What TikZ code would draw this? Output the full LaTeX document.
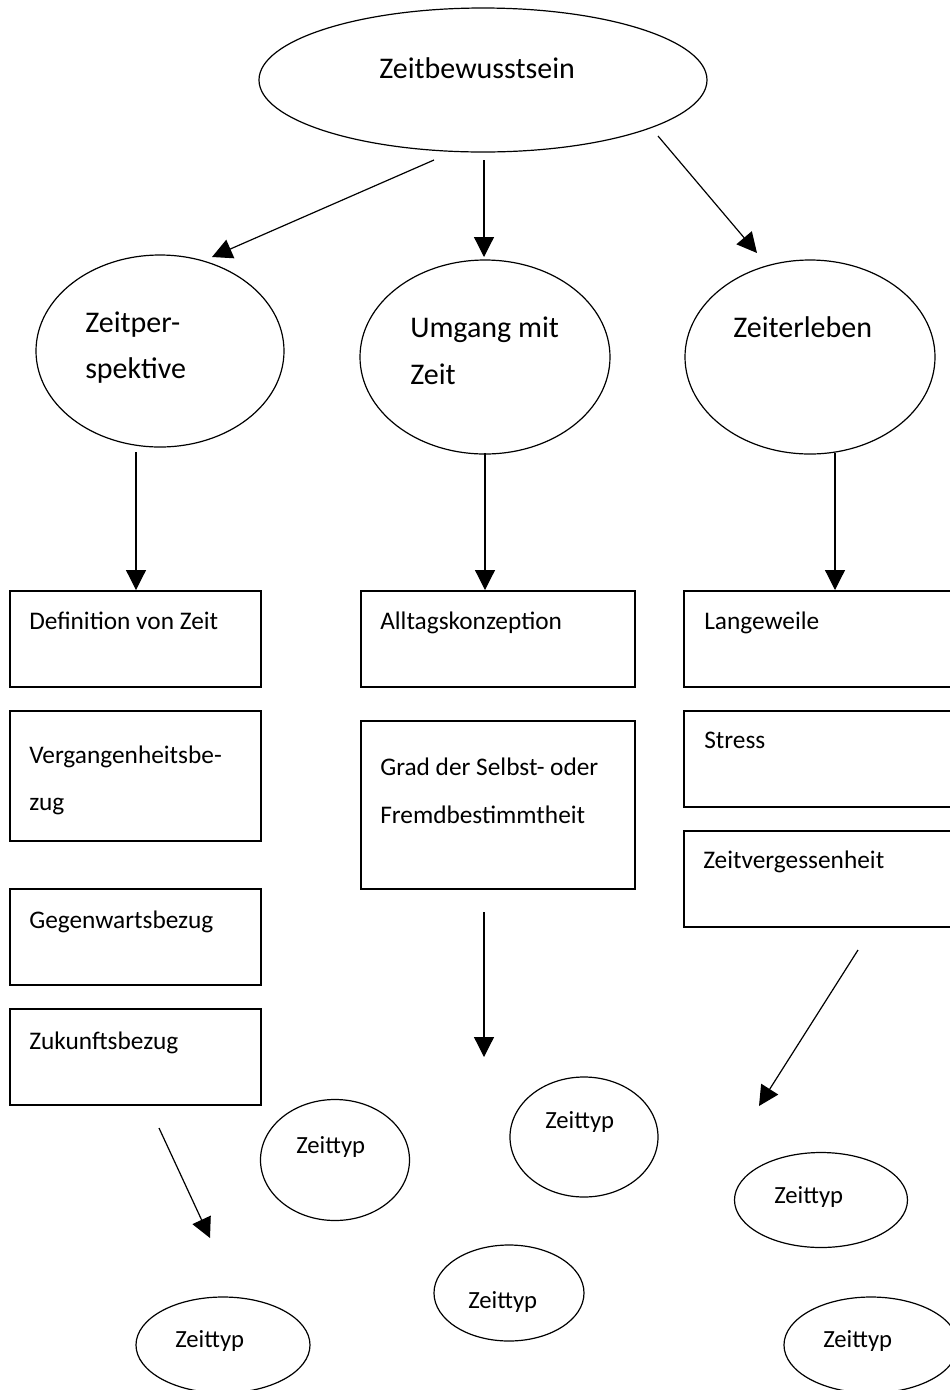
\documentclass[tikz,border=0pt]{standalone}
\usepackage{fontspec}
\setmainfont{Carlito}
\usetikzlibrary{shapes.geometric,arrows.meta}
\begin{document}
\begin{tikzpicture}[x=0.75pt,y=-0.75pt,
  oval/.style 2 args={draw, ellipse, line width=0.9pt, inner sep=0pt, outer sep=0pt,
    minimum width={#1*0.75pt}, minimum height={#2*0.75pt}},
  box/.style 2 args={draw, rectangle, line width=1pt, inner sep=0pt, outer sep=0pt, anchor=north west,
    minimum width={#1*0.75pt}, minimum height={#2*0.75pt}},
  big/.style={anchor=base west, inner sep=0pt, font=\fontsize{22.5}{27}\selectfont},
  mid/.style={anchor=base west, inner sep=0pt, font=\fontsize{19}{23}\selectfont},
  small/.style={anchor=base west, inner sep=0pt, font=\fontsize{18.5}{22}\selectfont},
  arr/.style={line width=0.9pt, -{Triangle[length=15pt,width=15pt]}}
]
\clip (0,0) rectangle (950,1390);
\fill[white] (0,0) rectangle (950,1390);

% top ellipse
\node[oval={448}{144}] (top) at (483,80) {};
\node[big] (toptxt) at (379,78) {Zeitbewusstsein};

% second level ellipses
\node[oval={248}{192}] (zp) at (160,351) {};
\node[big] (zptxt1) at (85,332) {Zeitper-};
\node[big] (zptxt2) at (85,378) {spektive};
\node[oval={250}{194}] (um) at (485,357) {};
\node[big] (umtxt1) at (410,337) {Umgang mit};
\node[big] (umtxt2) at (410,384) {Zeit};
\node[oval={250}{194}] (ze) at (810,357) {};
\node[big] (zetxt) at (733,337) {Zeiterleben};

% boxes left column
\node[box={251}{96}] (b11) at (10,591) {};
\node[mid] (t11) at (29,629) {Definition von Zeit};
\node[box={251}{130}] (b12) at (10,711) {};
\node[mid] (t12a) at (29,763) {Vergangenheitsbe-};
\node[mid] (t12b) at (29,810) {zug};
\node[box={251}{96}] (b13) at (10,889) {};
\node[mid] (t13) at (29,928) {Gegenwartsbezug};
\node[box={251}{96}] (b14) at (10,1009) {};
\node[mid] (t14) at (29,1049) {Zukunftsbezug};

% boxes middle column
\node[box={274}{96}] (b21) at (361,591) {};
\node[mid] (t21) at (380,629) {Alltagskonzeption};
\node[box={274}{168}] (b22) at (361,721) {};
\node[mid] (t22a) at (380,775) {Grad der Selbst- oder};
\node[mid] (t22b) at (380,823) {Fremdbestimmtheit};

% boxes right column
\node[box={290}{96}] (b31) at (684,591) {};
\node[mid] (t31) at (704,629) {Langeweile};
\node[box={290}{96}] (b32) at (684,711) {};
\node[mid] (t32) at (704,748) {Stress};
\node[box={290}{96}] (b33) at (684,831) {};
\node[mid] (t33) at (703,868) {Zeitvergessenheit};

% Zeittyp ovals
\node[oval={149}{121}] (zt1) at (335,1160) {};
\node[small] (zt1t) at (296,1153) {Zeittyp};
\node[oval={148}{120}] (zt2) at (584,1137) {};
\node[small] (zt2t) at (545,1128) {Zeittyp};
\node[oval={173}{95}] (zt3) at (821,1200) {};
\node[small] (zt3t) at (774,1203) {Zeittyp};
\node[oval={150}{96}] (zt4) at (509,1293) {};
\node[small] (zt4t) at (468,1308) {Zeittyp};
\node[oval={174}{96}] (zt5) at (223,1345) {};
\node[small] (zt5t) at (175,1347) {Zeittyp};
\node[oval={174}{96}] (zt6) at (871,1345) {};
\node[small] (zt6t) at (823,1347) {Zeittyp};

% arrow end points
\coordinate (a1s) at (434,160); \coordinate (a1e) at (212,257);
\coordinate (a2s) at (484,160); \coordinate (a2e) at (484,257);
\coordinate (a3s) at (658,136); \coordinate (a3e) at (757,253);
\coordinate (b1s) at (136,452); \coordinate (b1e) at (136,590);
\coordinate (b2s) at (485,453); \coordinate (b2e) at (485,590);
\coordinate (b3s) at (835,453); \coordinate (b3e) at (835,590);
\coordinate (c1s) at (484,912); \coordinate (c1e) at (484,1057);
\coordinate (c2s) at (858,950); \coordinate (c2e) at (759,1106);
\coordinate (c3s) at (159,1128); \coordinate (c3e) at (210,1238);

\draw[arr] (a1s) -- (a1e);
\draw[arr] (a2s) -- (a2e);
\draw[arr] (a3s) -- (a3e);
\draw[arr] (b1s) -- (b1e);
\draw[arr] (b2s) -- (b2e);
\draw[arr] (b3s) -- (b3e);
\draw[arr] (c1s) -- (c1e);
\draw[arr] (c2s) -- (c2e);
\draw[arr] (c3s) -- (c3e);
\end{tikzpicture}
\end{document}
